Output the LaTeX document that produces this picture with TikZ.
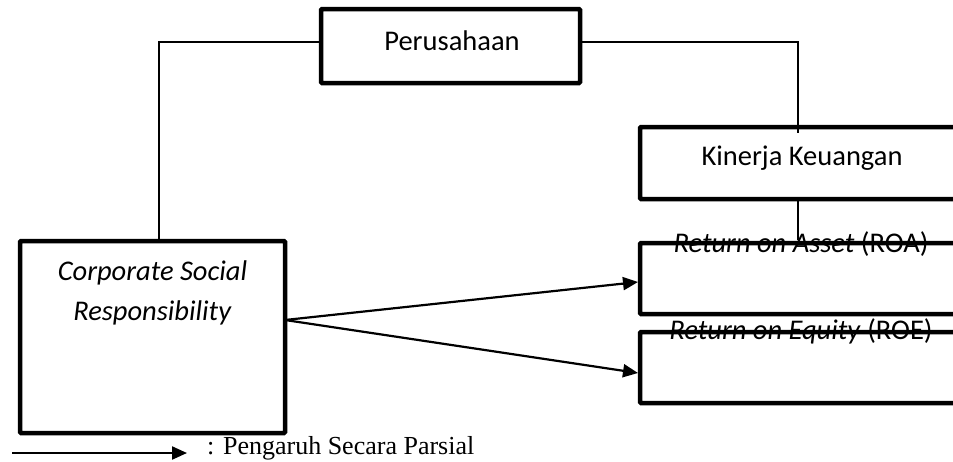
\documentclass[tikz,border=0pt]{standalone}
\usepackage{fontspec}
\setmainfont{Carlito}
\newfontfamily\timesf{Liberation Serif}
\usetikzlibrary{arrows.meta}
\begin{document}
\begin{tikzpicture}[x=1pt,y=-1pt,
  box/.style={draw, line width=4.5pt, rounded corners=1pt, inner sep=0pt, outer sep=0pt},
  conn/.style={line width=1.5pt},
  arr/.style={line width=2.2pt, -{Triangle[length=15pt,width=13pt]}},
  lbl/.style={font=\fontsize{28.5}{40}\selectfont, anchor=base, inner sep=0pt, align=center}
]
\useasboundingbox (0,0) rectangle (953,461);
\clip (0,0) rectangle (953,461);

% boxes
\node[box, minimum width=259pt, minimum height=74pt] (per) at (450.5,46) {};
\node[box, minimum width=324pt, minimum height=72pt] (kin) at (802,163) {};
\node[box, minimum width=324pt, minimum height=71pt] (roa) at (802,278.5) {};
\node[box, minimum width=324pt, minimum height=71pt] (roe) at (802,367.5) {};
\node[box, minimum width=265pt, minimum height=192pt] (csr) at (152.5,337) {};

% connectors
\draw[conn] ([yshift=4pt]per.west) -| ([xshift=139pt]csr.north west);
\draw[conn] ([yshift=4pt]per.east) -| ([xshift=158pt,yshift=-6pt]kin.north west);
\draw[conn] ([xshift=158pt]kin.south west) -- ([xshift=158pt,yshift=3pt]roa.north west);

\draw[arr] ([yshift=17pt]csr.east) -- ([xshift=-2pt,yshift=-3.5pt]roa.west);
\draw[arr] ([yshift=17pt]csr.east) -- ([xshift=-2pt,yshift=-5.5pt]roe.west);

% labels
\node[lbl] (perT) at (452,50) {Perusahaan};
\node[lbl] (kinT) at (802,165) {Kinerja Keuangan};
\node[lbl] (roaT) at (801,252) {\textit{Return on Asset} (ROA)};
\node[lbl] (roeT) at (801,339) {\textit{Return on Equity} (ROE)};
\node[lbl] (csrT) at (152.5,320) {\textit{Corporate Social}\\\textit{Responsibility}};

% legend
\coordinate (l1) at (12,453);
\coordinate (l2) at (187,453);
\draw[arr] (l1) -- (l2);
\node[anchor=base west, inner sep=0pt, font=\timesf\fontsize{26}{30}\selectfont] (leg) at (207,454) {: Pengaruh Secara Parsial};
\end{tikzpicture}
\end{document}
